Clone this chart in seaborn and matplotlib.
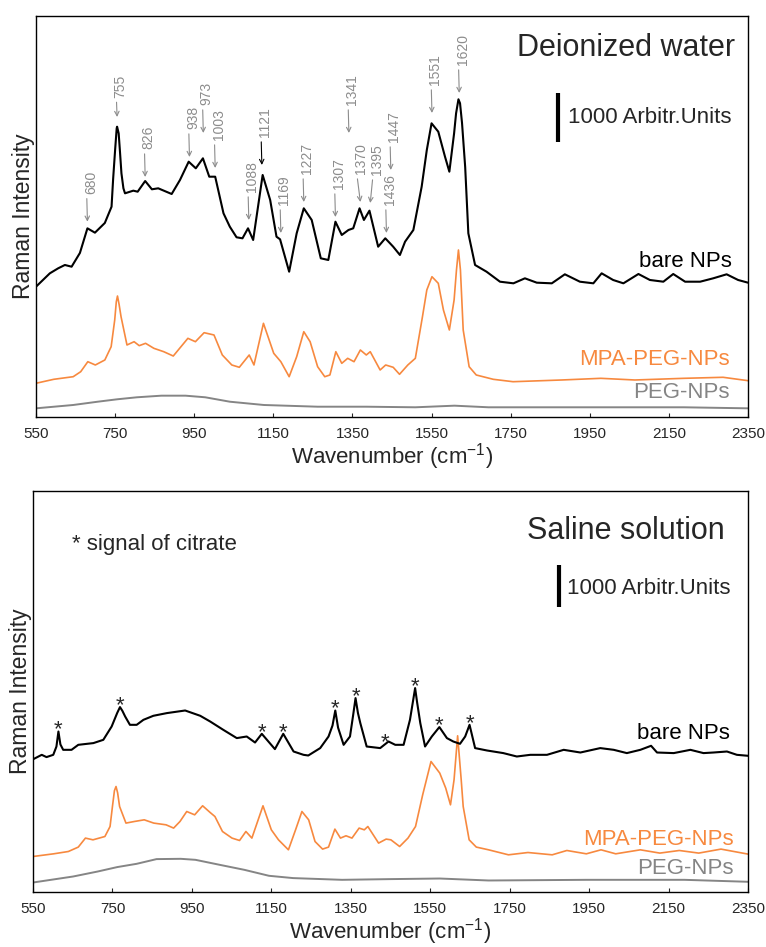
import numpy as np
import pandas as pd
import seaborn as sns
import matplotlib.pyplot as plt

# wavenumber ticks
ticks = [550, 750, 950, 1150, 1350, 1550, 1750, 1950, 2150, 2350]

# ---- deionized water (intensity in arbitr. units, offsets included) ----
di_bare_x = [550, 585, 606, 623, 640, 661, 680, 699, 724, 741, 745, 750, 754, 755, 759, 762, 766, 771, 775,
             796, 807, 826, 843, 859, 893, 914, 936, 954, 972, 988, 1003, 1024, 1040, 1057, 1072,
             1086, 1099, 1123, 1142, 1158, 1167, 1190, 1209, 1227, 1247, 1270, 1289, 1307, 1323, 1340,
             1352, 1368, 1379, 1393, 1415, 1433, 1445, 1453, 1470, 1483, 1504, 1525, 1538, 1550, 1567,
             1584, 1595, 1607, 1612, 1618, 1622, 1627, 1635, 1643, 1660, 1689, 1723, 1757, 1786, 1816,
             1854, 1887, 1925, 1959, 1980, 2009, 2035, 2073, 2102, 2136, 2161, 2191, 2229, 2262, 2296,
             2325, 2350]
di_bare_y = [2658, 2931, 3033, 3101, 3066, 3346, 3849, 3760, 3958, 4290, 4855, 5447, 5890, 5922, 5786, 5447,
             4971, 4665, 4563, 4617, 4596, 4814, 4645, 4665, 4549, 4835, 5208, 5073, 5277, 4902, 4902,
             4155, 3882, 3666, 3645, 3849, 3611, 4937, 4427, 3678, 3625, 2964, 3747, 4257, 4019, 3237,
             3203, 3984, 3713, 3815, 3849, 4257, 4019, 4209, 3474, 3645, 3543, 3474, 3305, 3576, 3815,
             4698, 5447, 5991, 5820, 5310, 5004, 5787, 6195, 6481, 6400, 6000, 5100, 3747, 3101, 2964,
             2760, 2727, 2829, 2740, 2727, 2911, 2760, 2727, 2931, 2795, 2727, 2917, 2795, 2760, 2917,
             2760, 2760, 2829, 2911, 2795, 2740]

di_mpa_x = [550, 595, 644, 663, 681, 700, 724, 740, 749, 753, 756, 760, 765, 780, 798, 811, 827, 848, 873,
            897, 934, 953, 975, 1000, 1021, 1045, 1064, 1089, 1101, 1125, 1151, 1169, 1190, 1209, 1227,
            1243, 1262, 1280, 1293, 1308, 1323, 1338, 1354, 1370, 1385, 1395, 1420, 1434, 1453, 1469,
            1490, 1509, 1527, 1538, 1551, 1567, 1580, 1595, 1607, 1613, 1618, 1623, 1630, 1645, 1663,
            1706, 1756, 1879, 1978, 2064, 2188, 2287, 2350]
di_mpa_y = [688, 769, 822, 924, 1128, 1061, 1163, 1434, 1979, 2350, 2468, 2300, 2046, 1469, 1536, 1455,
            1503, 1401, 1332, 1244, 1605, 1536, 1720, 1673, 1265, 1061, 1014, 1265, 1061, 1911, 1299,
            1128, 822, 1230, 1740, 1536, 1026, 822, 857, 1332, 1095, 1197, 1128, 1367, 1265, 1332, 959,
            1061, 1014, 871, 1061, 1197, 2046, 2591, 2862, 2727, 2183, 1775, 2387, 3000, 3407, 3000,
            1775, 1026, 857, 769, 720, 755, 789, 755, 789, 810, 741]

di_peg_x = [550, 644, 706, 755, 805, 867, 928, 978, 1040, 1126, 1262, 1385, 1509, 1608, 1694, 1940, 2188, 2350]
di_peg_y = [177, 245, 312, 361, 402, 435, 435, 402, 312, 245, 210, 210, 198, 231, 198, 198, 198, 177]

# assigned bands and heights of the arrow tips
band_labels = [680, 755, 826, 938, 973, 1003, 1088, 1121, 1169, 1227, 1307, 1341, 1370, 1395, 1436, 1447,
               1551, 1620]
band_tips = [3984, 6120, 4896, 5304, 5794, 5080, 4019, 5141, 3754, 4386, 4080, 5794, 4386, 4366, 3754, 5039,
             6202, 6610]

# ---- saline solution ----
sa_bare_x = [551, 572, 584, 601, 609, 614, 619, 626, 647, 664, 702, 727, 748, 762, 769, 775, 782, 794, 811,
             828, 853, 887, 933, 971, 996, 1029, 1063, 1088, 1109, 1126, 1159, 1180, 1206, 1231, 1243,
             1273, 1294, 1304, 1311, 1318, 1332, 1348, 1356, 1362, 1368, 1374, 1390, 1424, 1445, 1462,
             1483, 1499, 1507, 1512, 1517, 1525, 1537, 1554, 1573, 1592, 1608, 1625, 1638, 1649, 1663,
             1693, 1734, 1768, 1802, 1844, 1886, 1928, 1978, 2012, 2045, 2079, 2106, 2121, 2163, 2205,
             2238, 2263, 2297, 2322, 2350]
sa_bare_y = [3151, 3253, 3199, 3253, 3450, 3808, 3500, 3372, 3372, 3491, 3532, 3610, 3927, 4250, 4389, 4300,
             4165, 3967, 3967, 4086, 4182, 4246, 4308, 4182, 4046, 3848, 3651, 3689, 3546, 3753, 3389,
             3753, 3332, 3253, 3237, 3413, 3689, 3950, 4308, 3900, 3491, 3689, 4200, 4603, 4250, 4008,
             3451, 3413, 3570, 3491, 3491, 4086, 4550, 4841, 4500, 4008, 3451, 3689, 3913, 3651, 3570,
             3515, 3689, 3967, 3413, 3356, 3294, 3213, 3253, 3253, 3372, 3308, 3413, 3372, 3294, 3372,
             3468, 3308, 3294, 3372, 3294, 3308, 3332, 3253, 3230]

sa_mpa_x = [550, 602, 639, 664, 682, 701, 731, 744, 750, 755, 759, 763, 768, 784, 805, 830, 854, 885, 904,
            920, 937, 957, 977, 996, 1008, 1027, 1051, 1070, 1086, 1101, 1129, 1150, 1168, 1193, 1211,
            1227, 1244, 1260, 1279, 1294, 1310, 1324, 1338, 1353, 1371, 1384, 1393, 1420, 1439, 1451,
            1473, 1494, 1513, 1531, 1552, 1574, 1589, 1601, 1610, 1619, 1628, 1633, 1648, 1666, 1697,
            1747, 1796, 1857, 1894, 1943, 1980, 2017, 2079, 2128, 2177, 2226, 2282, 2350]
sa_mpa_y = [833, 897, 952, 1057, 1271, 1230, 1309, 1547, 2023, 2400, 2499, 2350, 2023, 1628, 1666, 1706,
            1628, 1587, 1509, 1666, 1904, 1825, 2040, 1880, 1785, 1428, 1271, 1214, 1428, 1271, 2040,
            1468, 1230, 992, 1468, 1904, 1706, 1190, 1009, 1057, 1485, 1271, 1326, 1271, 1509, 1468,
            1547, 1152, 1247, 1230, 1071, 1271, 1547, 2301, 3094, 2818, 2461, 2063, 2659, 3706, 2659,
            2023, 1230, 1057, 992, 873, 928, 873, 976, 897, 992, 897, 992, 914, 976, 914, 1009, 890]

sa_peg_x = [550, 651, 713, 762, 811, 861, 922, 959, 1020, 1082, 1144, 1205, 1328, 1451, 1574, 1697, 1943,
            2190, 2350]
sa_peg_y = [214, 357, 476, 581, 659, 771, 778, 754, 635, 516, 374, 319, 278, 295, 309, 262, 278, 278, 231]

# citrate bands marked with *
citrate_peaks = [614, 769, 1126, 1180, 1311, 1362, 1437, 1512, 1573, 1649]

BLACK = '#000000'
ORANGE = '#F7893F'
GRAY = '#858585'
LABEL_GRAY = '#8c8c8c'

sns.set_style('white')
plt.rcParams['font.family'] = ['Liberation Sans', 'DejaVu Sans']
plt.rcParams['mathtext.fontset'] = 'custom'
plt.rcParams['mathtext.rm'] = 'Liberation Sans'
plt.rcParams['mathtext.it'] = 'Liberation Sans:italic'

fig = plt.figure(figsize=(7.66, 9.47), dpi=100)
ax1 = fig.add_axes([36 / 766, 1 - 417 / 947, 712 / 766, 401 / 947])
ax2 = fig.add_axes([33 / 766, 1 - 891.5 / 947, 715 / 766, 401 / 947])


def draw(ax, series):
    for xs, ys, c, lw in series:
        df = pd.DataFrame({'wn': xs, 'I': ys})
        sns.lineplot(data=df, x='wn', y='I', ax=ax, color=c, linewidth=lw, estimator=None)


def style(ax, ymax):
    ax.set_xlim(550, 2350)
    ax.set_ylim(0, ymax)
    ax.set_xticks(ticks)
    ax.set_xticklabels([str(t) for t in ticks])
    ax.set_yticks([])
    ax.tick_params(axis='x', direction='in', length=3, width=0.8, pad=7.5, labelsize=11, bottom=True)
    for s in ax.spines.values():
        s.set_color('black')
        s.set_linewidth(1.0)
    ax.set_xlabel('Wavenumber (cm$^{-1}$)', fontsize=16, labelpad=0)
    ax.set_ylabel('Raman Intensity', fontsize=16.5, labelpad=1)
    ax.grid(False)


# top panel
draw(ax1, [(di_peg_x, di_peg_y, GRAY, 1.4), (di_mpa_x, di_mpa_y, ORANGE, 1.2),
           (di_bare_x, di_bare_y, BLACK, 1.5)])
style(ax1, 8180)
# side shift of the two crowded labels
nudge = {1370: 0.5, 1395: 5.0}
for wn, tip in zip(band_labels, band_tips):
    c = BLACK if wn == 1121 else LABEL_GRAY
    L = 14 if wn == 755 else 20
    dx = nudge.get(wn, 2.5)
    ax1.annotate(str(wn), xy=(wn, tip), xytext=(dx, L), textcoords='offset points', rotation=90,
                 ha='center', va='bottom', fontsize=10, color=LABEL_GRAY,
                 arrowprops=dict(arrowstyle='->', color=c, lw=0.8, shrinkA=1, shrinkB=0,
                                 mutation_scale=8, relpos=(0.2, 0)))
ax1.text(0.982, 0.919, 'Deionized water', transform=ax1.transAxes, ha='right', va='center', fontsize=22)
ax1.plot([1870, 1870], [5616, 6616], color='black', lw=3, solid_capstyle='butt')
ax1.text(1895, 6100, '1000 Arbitr.Units', ha='left', va='center', fontsize=16)
ax1.text(2309, 3168, 'bare NPs', ha='right', va='center', fontsize=16, color=BLACK)
ax1.text(2304, 1163, 'MPA-PEG-NPs', ha='right', va='center', fontsize=16, color=ORANGE)
ax1.text(2304, 490, 'PEG-NPs', ha='right', va='center', fontsize=16, color=GRAY)

# bottom panel
draw(ax2, [(sa_peg_x, sa_peg_y, GRAY, 1.4), (sa_mpa_x, sa_mpa_y, ORANGE, 1.2),
           (sa_bare_x, sa_bare_y, BLACK, 1.5)])
style(ax2, 9544)
for wn in citrate_peaks:
    yv = np.interp(wn, sa_bare_x, sa_bare_y)
    ax2.annotate('*', xy=(wn, yv), xytext=(0, -3), textcoords='offset points',
                 ha='center', va='baseline', fontsize=16)
ax2.text(647, 8251, '* signal of citrate', ha='left', va='center', fontsize=16)
ax2.text(0.968, 0.90, 'Saline solution', transform=ax2.transAxes, ha='right', va='center', fontsize=22)
ax2.plot([1873, 1873], [6769, 7769], color='black', lw=3, solid_capstyle='butt')
ax2.text(1894, 7221, '1000 Arbitr.Units', ha='left', va='center', fontsize=16)
ax2.text(2305, 3753, 'bare NPs', ha='right', va='center', fontsize=16, color=BLACK)
ax2.text(2313, 1230, 'MPA-PEG-NPs', ha='right', va='center', fontsize=16, color=ORANGE)
ax2.text(2313, 540, 'PEG-NPs', ha='right', va='center', fontsize=16, color=GRAY)

fig.savefig('out.png', dpi=100)
